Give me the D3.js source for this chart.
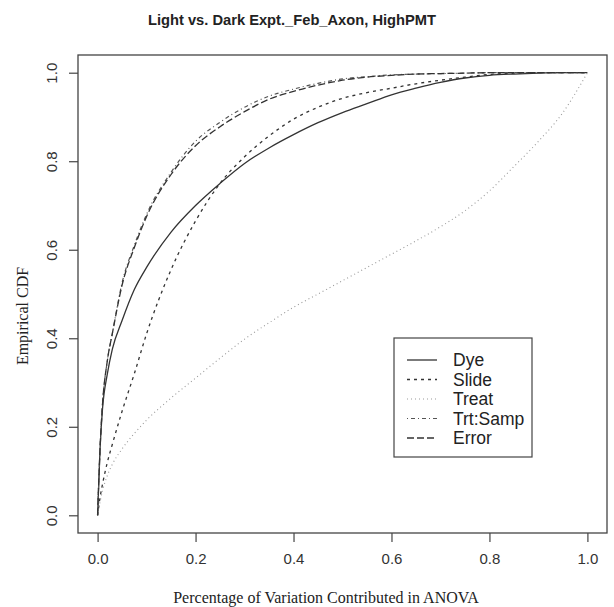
<!DOCTYPE html>
<html>
<head>
<meta charset="utf-8">
<script src="https://cdn.jsdelivr.net/npm/d3@7"></script>
<style>
  body { margin: 0; background: #fff; }
  svg { display: block; }
</style>
</head>
<body>
<div id="chart"></div>
<script>
// empirical CDFs of the variance components
const xs       = [0, 0.005, 0.01, 0.02, 0.03, 0.05, 0.075, 0.1, 0.15, 0.2, 0.25, 0.3, 0.35, 0.4, 0.45, 0.5, 0.55, 0.6, 0.65, 0.7, 0.75, 0.8, 0.85, 0.9, 0.95, 1.0];
const dye      = [0, 0.15, 0.24, 0.32, 0.375, 0.44, 0.51, 0.56, 0.64, 0.70, 0.75, 0.795, 0.83, 0.86, 0.887, 0.91, 0.93, 0.95, 0.965, 0.978, 0.988, 0.994, 0.997, 0.999, 1, 1];
const slide    = [0, 0.04, 0.07, 0.12, 0.16, 0.235, 0.32, 0.41, 0.555, 0.665, 0.75, 0.81, 0.857, 0.895, 0.922, 0.942, 0.955, 0.965, 0.975, 0.983, 0.99, 0.996, 0.999, 1, 1, 1];
const treat    = [0, 0.03, 0.055, 0.09, 0.115, 0.15, 0.185, 0.215, 0.265, 0.31, 0.355, 0.398, 0.435, 0.47, 0.50, 0.53, 0.56, 0.59, 0.62, 0.652, 0.688, 0.733, 0.788, 0.845, 0.91, 1.0];
const trtSamp  = [0, 0.15, 0.25, 0.35, 0.41, 0.525, 0.61, 0.68, 0.775, 0.845, 0.888, 0.922, 0.947, 0.963, 0.976, 0.986, 0.991, 0.995, 0.997, 0.998, 0.999, 1, 1, 1, 1, 1];
const errorCdf = [0, 0.15, 0.25, 0.35, 0.41, 0.52, 0.605, 0.675, 0.77, 0.835, 0.878, 0.912, 0.94, 0.958, 0.972, 0.983, 0.99, 0.994, 0.997, 0.998, 0.999, 1, 1, 1, 1, 1];

const seriesNames = ["Dye", "Slide", "Treat", "Trt:Samp", "Error"];
const seriesVals  = [dye, slide, treat, trtSamp, errorCdf];
const ticks = [0, 0.2, 0.4, 0.6, 0.8, 1.0];

// R style line types
const styles = {
    "Dye":      { dash: null,      color: "#333", width: 1.3 },
    "Slide":    { dash: "3,4",     color: "#333", width: 1.3 },
    "Treat":    { dash: "1,3",     color: "#999", width: 1.1 },
    "Trt:Samp": { dash: "1,3,4,3", color: "#555", width: 1.2 },
    "Error":    { dash: "7,3",     color: "#333", width: 1.3 }
};

const width = 614, height = 607;
const box = { left: 78, right: 607, top: 55, bottom: 533 };

const svg = d3.select("#chart").append("svg")
    .attr("width", width)
    .attr("height", height);

// 4% padding like R's default axis extent
const x = d3.scaleLinear().domain([-0.04, 1.04]).range([box.left, box.right]);
const y = d3.scaleLinear().domain([-0.04, 1.04]).range([box.bottom, box.top]);

// plot frame
svg.append("rect")
    .attr("x", box.left).attr("y", box.top)
    .attr("width", box.right - box.left)
    .attr("height", box.bottom - box.top)
    .attr("fill", "none")
    .attr("stroke", "#444")
    .attr("stroke-width", 1.3);

// axes, ticks sitting outside the frame
const xAxis = svg.append("g")
    .attr("transform", `translate(0,${box.bottom})`)
    .call(d3.axisBottom(x).tickValues(ticks).tickSize(9).tickPadding(8).tickFormat(d3.format(".1f")));

const yAxis = svg.append("g")
    .attr("transform", `translate(${box.left},0)`)
    .call(d3.axisLeft(y).tickValues(ticks).tickSize(9).tickPadding(8).tickFormat(d3.format(".1f")));

[xAxis, yAxis].forEach(g => {
    g.select(".domain").remove();
    g.selectAll(".tick line").attr("stroke", "#444").attr("stroke-width", 1.2);
    g.selectAll(".tick text")
        .attr("fill", "#333")
        .style("font-family", "'Liberation Sans', Arial, sans-serif")
        .style("font-size", "15px");
});

// y tick labels are rotated, R las=0
yAxis.selectAll(".tick text")
    .attr("x", null).attr("dy", null)
    .attr("text-anchor", "middle")
    .attr("transform", "translate(-21,0) rotate(-90)");

xAxis.selectAll(".tick text").attr("dy", "0.95em");

// curves
const line = d3.line()
    .x((d, i) => x(xs[i]))
    .y(d => y(d))
    .curve(d3.curveMonotoneX);

seriesNames.forEach((name, k) => {
    const s = styles[name];
    svg.append("path")
        .datum(seriesVals[k])
        .attr("d", line)
        .attr("fill", "none")
        .attr("stroke", s.color)
        .attr("stroke-width", s.width)
        .attr("stroke-dasharray", s.dash);
});

// title and axis labels
svg.append("text")
    .attr("x", 292).attr("y", 25)
    .attr("text-anchor", "middle")
    .style("font-family", "'Liberation Sans', Arial, sans-serif")
    .style("font-weight", "bold")
    .style("font-size", "14.7px")
    .attr("fill", "#222")
    .text("Light vs. Dark Expt._Feb_Axon, HighPMT");

svg.append("text")
    .attr("x", 326).attr("y", 603)
    .attr("text-anchor", "middle")
    .style("font-family", "'Liberation Serif', 'Times New Roman', serif")
    .style("font-size", "16px")
    .attr("fill", "#222")
    .text("Percentage of Variation Contributed in ANOVA");

svg.append("text")
    .attr("transform", "translate(28,316) rotate(-90)")
    .attr("text-anchor", "middle")
    .style("font-family", "'Liberation Serif', 'Times New Roman', serif")
    .style("font-size", "16px")
    .attr("fill", "#222")
    .text("Empirical CDF");

// legend
const legend = svg.append("g").attr("transform", "translate(394,338)");
legend.append("rect")
    .attr("width", 138).attr("height", 119)
    .attr("fill", "#fff")
    .attr("stroke", "#444")
    .attr("stroke-width", 1.2);

seriesNames.forEach((name, k) => {
    const s = styles[name];
    const yy = 22 + k * 19.5;
    legend.append("line")
        .attr("x1", 13).attr("x2", 43)
        .attr("y1", yy).attr("y2", yy)
        .attr("stroke", s.color)
        .attr("stroke-width", s.width)
        .attr("stroke-dasharray", s.dash);
    legend.append("text")
        .attr("x", 59).attr("y", yy + 6)
        .style("font-family", "'Liberation Sans', Arial, sans-serif")
        .style("font-size", "17.5px")
        .attr("fill", "#222")
        .text(name);
});
</script>
</body>
</html>
